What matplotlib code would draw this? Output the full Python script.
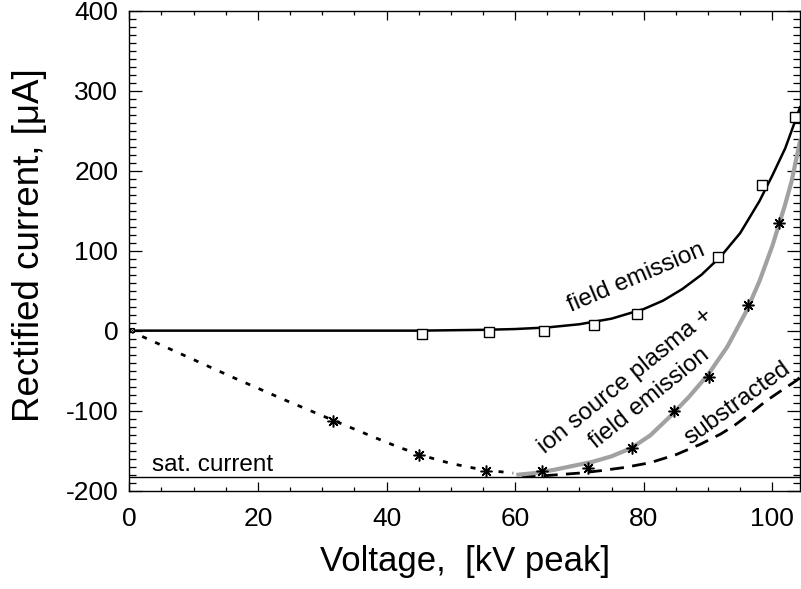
import numpy as np
import matplotlib
matplotlib.use("Agg")
import matplotlib.pyplot as plt
from matplotlib.ticker import MultipleLocator

plt.rcParams['font.family'] = ['Liberation Sans', 'DejaVu Sans']
plt.rcParams['axes.unicode_minus'] = False

# measured points: field emission only (squares)
fe_x = [45.5, 55.9, 64.5, 72.2, 78.9, 91.6, 98.4, 103.5]
fe_y = [-4, -2, 0, 7.5, 21, 92.5, 182, 267]

# measured points: ion source plasma + field emission (asterisks)
ion_x = [31.7, 45.0, 55.4, 64.1, 71.4, 78.2, 84.7, 90.2, 96.2, 101.1]
ion_y = [-113, -155, -175, -176, -172, -147, -100, -58, 32.5, 135]

# fitted curves
fe_fit_x = [0, 45, 55, 60, 65, 70, 75, 80, 83, 86, 89, 92, 95, 98, 100, 102, 103, 104.3]
fe_fit_y = [0, 0, 1, 2, 4, 8, 15, 27, 37.5, 52, 70, 93, 122, 162, 194, 228, 250, 279]

ion_fit_x = [60.5, 63, 66, 69, 72, 75, 78, 81, 84, 87, 90, 93, 96, 98, 100, 102, 103, 104.3]
ion_fit_y = [-180, -178, -174, -169, -164, -157, -147, -131, -108, -83, -55, -20, 25, 62, 106, 158, 187, 237]

low_x = [0, 8, 16, 24, 32, 38, 42, 46, 50, 55, 59.7]
low_y = [0, -29, -58, -86, -113, -133, -146, -157, -166, -174, -178]

sub_x = [61, 65, 70, 73.3, 77, 81, 85, 88.8, 92, 94, 96.5, 99, 101, 103.8, 104.3]
sub_y = [-182, -181, -178, -175, -171, -165, -155, -142, -129, -119, -104, -88, -77, -62, -58]

sat_current = -183

fig = plt.figure(figsize=(8.01, 5.89), dpi=100)
ax = fig.add_axes([0.1614, 0.1669, 0.8374, 0.8152])

ax.axhline(sat_current, color='black', lw=1.0)
ax.plot(low_x, low_y, color='black', lw=2, linestyle=(0, (1.8, 3.3)))
ax.plot(sub_x, sub_y, color='black', lw=2, linestyle=(0, (5, 3)))
ax.plot(ion_fit_x, ion_fit_y, color='0.63', lw=3)
ax.plot(fe_fit_x, fe_fit_y, color='black', lw=1.8)

ax.plot(fe_x, fe_y, linestyle='none', marker='s', ms=7.5, mfc='white',
        mec='black', mew=1.0, clip_on=False)
ax.plot(ion_x, ion_y, linestyle='none', marker=(8, 2, 0), ms=8.5,
        color='black', mew=1.1)
ax.plot([0.4], [0.5], linestyle='none', marker='s', ms=3.5, mfc='white',
        mec='black', mew=0.8, clip_on=False)
ax.plot([0.4], [0.5], linestyle='none', marker='x', ms=3, color='black', mew=0.6, clip_on=False)

# annotations
ax.text(3.5, -176, 'sat. current', fontsize=17.5, ha='left', va='baseline')
ax.text(78.9, 66, 'field emission', fontsize=17.5, rotation=23,
        ha='center', va='center', rotation_mode='anchor')
ax.text(77.1, -62.5, 'ion source plasma +', fontsize=17.5, rotation=39,
        ha='center', va='center', rotation_mode='anchor')
ax.text(80.9, -84, 'field emission', fontsize=17.5, rotation=38.8,
        ha='center', va='center', rotation_mode='anchor')
ax.text(94.5, -91, 'substracted', fontsize=17.5, rotation=36,
        ha='center', va='center', rotation_mode='anchor')

ax.set_xlim(0, 104.3)
ax.set_ylim(-200, 400)
ax.xaxis.set_major_locator(MultipleLocator(20))
ax.xaxis.set_minor_locator(MultipleLocator(5))
ax.yaxis.set_major_locator(MultipleLocator(100))
ax.yaxis.set_minor_locator(MultipleLocator(10))

ax.tick_params(which='both', direction='in', top=True, right=True, labelsize=19, width=0.9)
ax.tick_params(axis='x', which='major', length=6.5, pad=12)
ax.tick_params(axis='x', which='minor', length=3)
ax.tick_params(axis='y', which='major', length=9.5, pad=8)
ax.tick_params(axis='y', which='minor', length=5)
for s in ax.spines.values():
    s.set_linewidth(1.0)

ax.set_xlabel('Voltage,  [kV peak]', fontsize=25, labelpad=10)
ax.set_ylabel('Rectified current, [\u03bcA]', fontsize=26.5)
ax.yaxis.set_label_coords(-0.122, 0.512)

fig.savefig('out.png', dpi=100)
